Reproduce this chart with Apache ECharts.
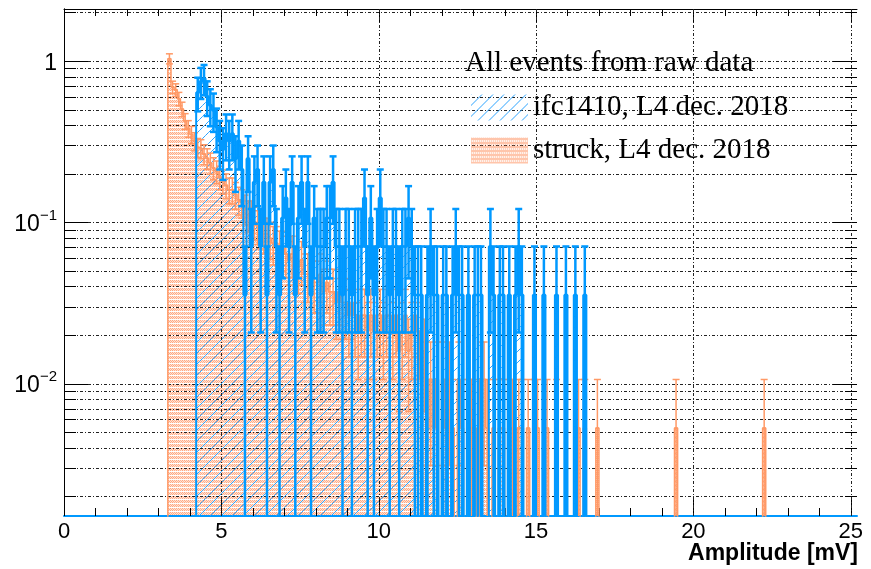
<!DOCTYPE html>
<html>
<head>
<meta charset="utf-8">
<script src="https://cdn.jsdelivr.net/npm/echarts@6/dist/echarts.min.js"></script>
<style>
  html, body { margin: 0; padding: 0; background: #fff; }
  #main { width: 871px; height: 569px; }
</style>
</head>
<body>
<div id="main"></div>
<script>
// histogram bins are 0.1 mV wide; counts
var binWidth = 0.1
var seriesNames = ['ifc1410, L4 dec. 2018', 'struck, L4 dec. 2018']
var legendTitle = 'All events from raw data'
var xName = 'Amplitude [mV]'

// ifc1410 (blue), bins from 4.2 mV, one entry = 0.0354
var blueStart = 4.2
var blueUnit = 0.0354
var blueCounts = [
  18, 21, 22, 17, 15, 14, 11, 9, 8, 10, 9, 10, 7, 9,
  6, 1, 7, 2, 5, 6, 2, 5, 1, 5, 6, 2, 1, 3, 4, 2, 5, 1, 3, 5, 2, 5, 1, 3,
  2, 2, 2, 3, 3, 5, 2, 2, 1, 2,
  2, 1, 2, 2, 2, 4, 1, 3, 1, 2,
  4, 2, 2, 1, 2, 2, 1, 2, 2, 3,
  2, 1, 1, 1, 0, 1, 2, 1, 1, 0,
  1, 1, 0, 1, 2, 1, 1, 0, 1, 0,
  1, 1, 1, 0, 0, 2, 1, 0, 1, 1,
  0, 1, 0, 1, 2, 1, 0, 0, 0, 1,
  0, 0, 1, 0, 0, 0, 1, 0, 0, 1,
  0, 0, 1, 0, 0, 1
]

// struck (orange), bins from 3.3 mV, one entry = 0.0053
var orangeStart = 3.3
var orangeUnit = 0.0053
var orangeCounts = [
  195, 130, 125, 110, 95, 80, 72,
  66, 60, 55, 54, 50, 47, 44, 41, 39, 36,
  34, 32, 30, 30, 28, 26, 25, 23, 21, 21,
  19, 18, 17, 16, 16, 15, 14, 14, 13, 13,
  12, 11, 12, 10, 10, 11, 9, 9, 10, 8,
  8, 9, 7, 8, 7, 7, 6, 7, 6, 6,
  5, 6, 5, 4, 5, 5, 4, 5, 4, 5,
  5, 4, 5, 5, 4, 5, 3, 4, 5, 3,
  4, 5, 4, 2, 3, 1, 2, 1, 2, 0,
  2, 1, 2, 1, 0, 2, 1, 0, 1, 1,
  1, 0, 2, 2, 1, 0, 1, 0, 1, 1,
  0, 1, 1, 0, 1, 1, 0, 1, 0, 1,
  1, 0, 0, 1, 0, 0, 1, 0, 0, 0,
  0, 0, 0, 1, 0, 1, 0, 0, 0, 1
]
// isolated bins far out: [left edge, count]
var orangeTail = [[19.4, 1], [22.2, 1]]

var xMin = 0, xMax = 25.2
var yMin = 0.00151, yMax = 2.1
var xTickValues = [0, 1, 2, 3, 4, 5, 6, 7, 8, 9, 10, 11, 12, 13, 14, 15, 16, 17, 18, 19, 20, 21, 22, 23, 24, 25]
var yDecades = [0.001, 0.01, 0.1, 1]

var FLOOR = 1e-6
var BLUE = '#0099ff'
var ORANGE = '#ff9966'

function makeBins(start, counts, unit, extra) {
  var bins = counts.map(function (n, i) {
    var x0 = +(start + i * binWidth).toFixed(3)
    return { x0: x0, x1: +(x0 + binWidth).toFixed(3), n: n, v: n * unit }
  })
  ;(extra || []).forEach(function (p) {
    bins.push({ x0: p[0], x1: +(p[0] + binWidth).toFixed(3), n: p[1], v: p[1] * unit })
  })
  return bins
}

// step outline, dropping to the floor on empty bins and gaps
function outlinePoints(bins) {
  var pts = [[bins[0].x0 - binWidth, FLOOR]]
  var prev = null
  bins.forEach(function (b) {
    if (prev && b.x0 - prev.x1 > 1e-6) pts.push([prev.x1, FLOOR])
    pts.push([b.x0, b.n > 0 ? b.v : FLOOR])
    prev = b
  })
  pts.push([prev.x1, FLOOR])
  return pts
}

function hatchPattern() {
  var c = document.createElement('canvas')
  c.width = 11; c.height = 11
  var g = c.getContext('2d')
  g.strokeStyle = '#2aa3ff'
  g.lineWidth = 1
  g.beginPath()
  for (var k = -11; k <= 22; k += 11) {
    g.moveTo(k - 11, 11); g.lineTo(k, 0)
  }
  g.stroke()
  return { image: c, repeat: 'repeat' }
}

function dotPattern() {
  var c = document.createElement('canvas')
  c.width = 4; c.height = 4
  var g = c.getContext('2d')
  for (var y = 0; y < 3; y++) {
    for (var x = 0; x < 4; x++) {
      g.fillStyle = (x + y) % 2 === 0 ? 'rgba(255,140,90,0.75)' : 'rgba(255,150,100,0.28)'
      g.fillRect(x, y, 1, 1)
    }
  }
  return { image: c, repeat: 'repeat' }
}

var blueFill = hatchPattern()
var orangeFill = dotPattern()

var blueBins = makeBins(blueStart, blueCounts, blueUnit)
var orangeBins = makeBins(orangeStart, orangeCounts, orangeUnit, orangeTail)

function fillData(bins) {
  return bins.filter(function (b) { return b.n > 0 }).map(function (b) { return [b.x0, b.x1, b.v] })
}
function errData(bins, unit) {
  return bins.filter(function (b) { return b.n > 0 }).map(function (b) {
    return [b.x0, b.x1, b.v, Math.sqrt(b.n) * unit]
  })
}

function fillRenderer(pattern) {
  return function (params, api) {
    var p0 = api.coord([api.value(0), api.value(2)])
    var p1 = api.coord([api.value(1), yMin])
    return {
      type: 'rect',
      shape: { x: p0[0], y: p0[1], width: p1[0] - p0[0], height: p1[1] - p0[1] },
      style: { fill: pattern }
    }
  }
}

function errRenderer(color, width) {
  return function (params, api) {
    var x0 = api.value(0), x1 = api.value(1), v = api.value(2), e = api.value(3)
    var xc = (x0 + x1) / 2
    var lowV = v - e
    var top = api.coord([xc, v + e])
    var bot = api.coord([xc, Math.max(lowV, yMin)])
    var a = api.coord([x0, v]), b = api.coord([x1, v])
    var st = { stroke: color, lineWidth: width }
    var kids = [
      { type: 'line', shape: { x1: top[0], y1: top[1], x2: bot[0], y2: bot[1] }, style: st },
      { type: 'line', shape: { x1: top[0] - 3.5, y1: top[1], x2: top[0] + 3.5, y2: top[1] }, style: st },
      { type: 'line', shape: { x1: a[0], y1: a[1], x2: b[0], y2: b[1] }, style: st }
    ]
    if (lowV > yMin) {
      kids.push({ type: 'line', shape: { x1: bot[0] - 3.5, y1: bot[1], x2: bot[0] + 3.5, y2: bot[1] }, style: st })
    }
    return { type: 'group', children: kids }
  }
}

var yGridValues = []
yDecades.forEach(function (d) {
  for (var m = 1; m <= 9; m++) {
    var v = +(m * d).toPrecision(3)
    if (v >= yMin && v <= yMax) yGridValues.push(v)
  }
})

var dash = [3, 2, 1, 2]

function yGridItem(params, api) {
  var v = api.value(1)
  var a = api.coord([xMin, v]), b = api.coord([xMax, v])
  var y = Math.round(a[1]) + 0.5
  var lg = Math.log10(v)
  var len = Math.abs(lg - Math.round(lg)) < 1e-6 ? 24 : 12
  return {
    type: 'group',
    children: [
      { type: 'line', shape: { x1: a[0], y1: y, x2: b[0], y2: y }, style: { stroke: '#222', lineWidth: 1, lineDash: dash } },
      { type: 'line', shape: { x1: a[0], y1: y, x2: a[0] + len, y2: y }, style: { stroke: '#000', lineWidth: 1 } },
      { type: 'line', shape: { x1: b[0] - len, y1: y, x2: b[0], y2: y }, style: { stroke: '#000', lineWidth: 1 } }
    ]
  }
}

function xGridItem(params, api) {
  var v = api.value(0)
  var a = api.coord([v, yMin]), b = api.coord([v, yMax])
  var x = Math.round(a[0]) + 0.5
  var major = v % 5 === 0
  var kids = [
    { type: 'line', shape: { x1: x, y1: a[1], x2: x, y2: a[1] - (major ? 16 : 8) }, style: { stroke: '#000', lineWidth: 1 } },
    { type: 'line', shape: { x1: x, y1: b[1], x2: x, y2: b[1] + (major ? 14 : 7) }, style: { stroke: '#000', lineWidth: 1 } }
  ]
  if (major && v > 0) {
    kids.push({ type: 'line', shape: { x1: x, y1: a[1], x2: x, y2: b[1] }, style: { stroke: '#222', lineWidth: 1, lineDash: dash } })
  }
  return { type: 'group', children: kids }
}

var myChart = echarts.init(document.getElementById('main'))
var option = {
  animation: false,
  backgroundColor: '#fff',
  title: [
    {
      text: legendTitle,
      left: 460,
      top: 44,
      textStyle: { fontFamily: 'Liberation Serif', fontSize: 29, fontWeight: 'normal', color: '#000' }
    },
    {
      text: xName,
      right: 13,
      top: 542,
      padding: 0,
      textStyle: { fontFamily: 'Liberation Sans', fontSize: 23, fontWeight: 'bold', color: '#000' }
    }
  ],
  legend: {
    orient: 'vertical',
    left: 466,
    top: 88,
    itemWidth: 57,
    itemHeight: 26,
    itemGap: 14,
    selectedMode: false,
    textStyle: { fontFamily: 'Liberation Serif', fontSize: 29, color: '#000' },
    data: [
      { name: seriesNames[0], icon: 'rect', itemStyle: { color: blueFill } },
      { name: seriesNames[1], icon: 'rect', itemStyle: { color: orangeFill } }
    ]
  },
  grid: { left: 64, right: 14, top: 9, bottom: 53, outerBoundsMode: 'none' },
  xAxis: [
    {
      type: 'value', min: xMin, max: xMax, interval: 5, position: 'bottom',
      axisLine: { lineStyle: { color: BLUE, width: 2 } },
      axisTick: { show: false },
      splitLine: { show: false },
      axisLabel: {
        margin: 5, fontFamily: 'Liberation Sans', fontSize: 22, color: '#000',
        formatter: function (v) { return Math.abs(v / 5 - Math.round(v / 5)) < 1e-6 ? String(v) : '' }
      }
    },
    {
      type: 'value', min: xMin, max: xMax, position: 'top',
      axisLine: { lineStyle: { color: '#000', width: 1 } },
      axisTick: { show: false }, axisLabel: { show: false }, splitLine: { show: false }
    }
  ],
  yAxis: [
    {
      type: 'log', logBase: 10, min: yMin, max: yMax, position: 'left',
      axisLine: { show: true, lineStyle: { color: '#000', width: 1 } },
      axisTick: { show: false },
      splitLine: { show: false },
      axisLabel: {
        margin: 7,
        showMinLabel: false, showMaxLabel: false,
        formatter: function (v) {
          var lg = Math.log10(v)
          if (Math.abs(lg - Math.round(lg)) > 1e-6) return ''
          var e = Math.round(lg)
          if (e === 0) return '{n|1}'
          return '{n|10}{s|\u2212' + (-e) + '}'
        },
        rich: {
          n: { fontFamily: 'Liberation Sans', fontSize: 23, color: '#000', lineHeight: 28, verticalAlign: 'bottom' },
          s: { fontFamily: 'Liberation Sans', fontSize: 15, color: '#000', lineHeight: 15, verticalAlign: 'top' }
        }
      }
    },
    {
      type: 'log', logBase: 10, min: yMin, max: yMax, position: 'right',
      axisLine: { show: true, lineStyle: { color: '#000', width: 1 } },
      axisTick: { show: false }, axisLabel: { show: false }, splitLine: { show: false }
    }
  ],
  series: [
    {
      name: 'ygrid', type: 'custom', silent: true, z: 3,
      renderItem: yGridItem,
      data: yGridValues.map(function (v) { return [xMin, v] })
    },
    {
      name: 'xgrid', type: 'custom', silent: true, z: 3,
      renderItem: xGridItem,
      data: xTickValues.map(function (v) { return [v, yMin] })
    },
    {
      name: seriesNames[1], type: 'custom', z: 1,
      renderItem: fillRenderer(orangeFill),
      encode: { x: [0, 1], y: 2 },
      data: fillData(orangeBins)
    },
    {
      name: seriesNames[0], type: 'custom', z: 2,
      renderItem: fillRenderer(blueFill),
      encode: { x: [0, 1], y: 2 },
      data: fillData(blueBins)
    },
    {
      name: seriesNames[1], type: 'line', step: 'end', z: 4,
      symbol: 'none', clip: true,
      lineStyle: { color: ORANGE, width: 1.5 },
      data: outlinePoints(orangeBins)
    },
    {
      name: seriesNames[1], type: 'custom', z: 4,
      renderItem: errRenderer('#ff9966', 1.5),
      encode: { x: [0, 1], y: 2 },
      data: errData(orangeBins, orangeUnit)
    },
    {
      name: seriesNames[0], type: 'line', step: 'end', z: 5,
      symbol: 'none', clip: true,
      lineStyle: { color: BLUE, width: 2 },
      data: outlinePoints(blueBins)
    },
    {
      name: seriesNames[0], type: 'custom', z: 5,
      renderItem: errRenderer(BLUE, 2.5),
      encode: { x: [0, 1], y: 2 },
      data: errData(blueBins, blueUnit)
    }
  ]
}
myChart.setOption(option)
</script>
</body>
</html>
